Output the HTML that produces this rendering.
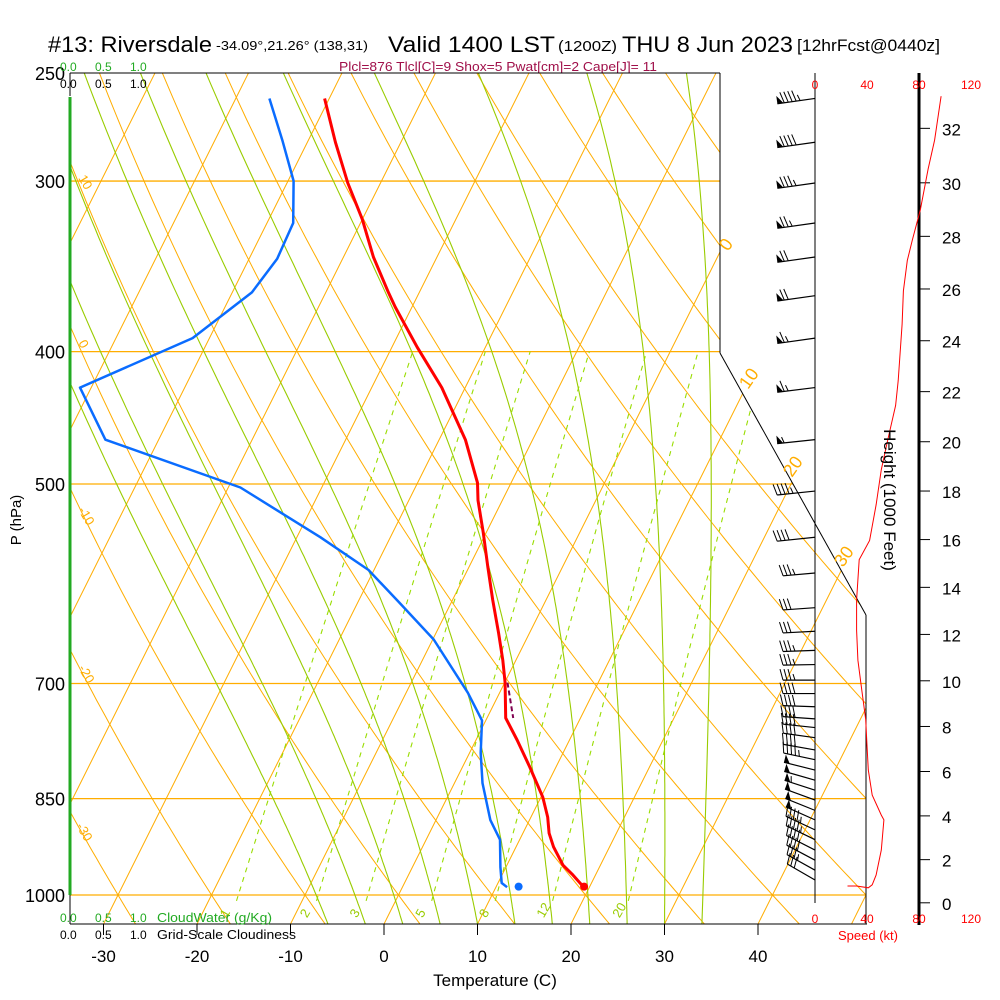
<!DOCTYPE html>
<html><head><meta charset="utf-8">
<style>
html,body{margin:0;padding:0;background:#fff;}
svg{display:block;font-family:"Liberation Sans",Arial,sans-serif;}
</style></head>
<body>
<svg id="chart" width="1000" height="1000" viewBox="0 0 1000 1000" xmlns="http://www.w3.org/2000/svg">
<defs>
<clipPath id="plotclip"><polygon points="70,73 720,73 720,353 866,615 866,924 70,924"/></clipPath>
</defs>
<rect x="0" y="0" width="1000" height="1000" fill="#fff"/>
<g id="title" font-family="'Liberation Sans Narrow','Liberation Sans',sans-serif">
<text x="48" y="52" font-size="22" textLength="164" lengthAdjust="spacingAndGlyphs">#13: Riversdale</text>
<text x="216" y="50" font-size="13" textLength="152" lengthAdjust="spacingAndGlyphs">-34.09°,21.26° (138,31)</text>
<text x="388" y="52" font-size="22" textLength="167" lengthAdjust="spacingAndGlyphs">Valid 1400 LST</text>
<text x="558" y="51" font-size="15" textLength="59" lengthAdjust="spacingAndGlyphs">(1200Z)</text>
<text x="622" y="52" font-size="22" textLength="171" lengthAdjust="spacingAndGlyphs">THU 8 Jun 2023</text>
<text x="797" y="51" font-size="17" textLength="143" lengthAdjust="spacingAndGlyphs">[12hrFcst@0440z]</text>
</g>
<text x="339" y="71" font-size="13" fill="#a0104a" textLength="318" lengthAdjust="spacingAndGlyphs" font-family="'Liberation Sans Narrow','Liberation Sans',sans-serif">Plcl=876 Tlcl[C]=9 Shox=5 Pwat[cm]=2 Cape[J]= 11</text>
<g id="grid" clip-path="url(#plotclip)"></g>
<g id="frame"></g>
<g id="series"></g>
<g id="winds"></g>
<g id="labels"></g>
</svg>
<script>
// ---- data ----
const pressureLevels=[300,400,500,700,850,1000];
const pressureTickLabels=[250,300,400,500,700,850,1000];
const tempTicks=[-30,-20,-10,0,10,20,30,40];
const isoTemps=[-120,-110,-100,-90,-80,-70,-60,-50,-40,-30,-20,-10,0,10,20,30,40,50,60];
const thetas=[-40,-30,-20,-10,0,10,20,30,40,50,60,70,80,90,100,110,120,130,140,150];
const moistStarts=[-6,-2,2,6,10,14,18,22,26,30,34];
const mixRatios=[1,2,3,5,8,12,20];
const tempP=[261,281,301,320,341,362,371,397,425,464,499,514,543,575,608,643,673,699,742,770,806,848,877,901,922,951,967,987];
const tempT=[-50.5,-47.0,-43.5,-40.0,-36.8,-33.3,-31.8,-27.3,-22.5,-17.2,-13.6,-12.6,-10.3,-8.0,-5.7,-3.3,-1.4,0.05,2.0,4.4,7.2,10.2,11.8,12.8,14.0,16.0,17.6,19.4];
const dewP=[261,280,300,322,342,362,391,425,464,503,547,578,611,650,711,745,787,828,881,911,954,980,987];
const dewT=[-56.4,-52.8,-49.4,-47.2,-47.0,-47.9,-51.8,-61.2,-55.7,-38.7,-27.5,-20.6,-15.5,-9.9,-3.4,-0.4,1.2,3.0,5.8,7.9,9.4,10.4,11.2];
const parcelP=[699,742];
const parcelT=[0.3,2.8];
const sfcP=986, sfcT=19.4, sfcTd=12.4;
const spdP=[260,280,294,315,331,343,361,382,420,438,464,488,518,550,568,608,640,673,708,744,777,810,845,874,881,927,967,983,988,985,985];
const spdKt=[97,92,87,81,75,71,68,67,64,62,56,51,47,42,34,32,32,33,36,39,40,41,44,51,53,51,47,44,41,32,25];
const barbP=[261,281,301,322,341,364,391,425,464,506,547,581,616,641,662,678,696,712,728,743,754,767,783,796,810,824,838,852,867,881,896,911,927,943,959,975];
const barbKt=[95,90,84,77,72,68,66,63,57,47,41,33,32,32,33,34,36,38,39,40,40,41,42,44,48,52,53,52,50,48,46,44,42,40,36,30];
const barbDir=[8,8,8,8,8,8,8,7,6,6,6,5,4,3,2,1,0,0,-2,-4,-6,-8,-10,-12,-14,-16,-18,-20,-22,-24,-25,-26,-27,-28,-29,-30];
const heightTicks=[0,2,4,6,8,10,12,14,16,18,20,22,24,26,28,30,32];
const speedTicks=[0,40,80,120];

// ---- scales ----
const NS="http://www.w3.org/2000/svg";
function Y(p){return 895-593*Math.log(1000/p);}
function X(T,p){return 384+9.35*T+0.5*(924-Y(p));}
function SX(k){return 815+1.3*k;}
function HY(kft){const m=kft*304.8;const p=1013.25*Math.pow(1-2.25577e-5*m,5.25588);return Y(p);}
function el(tag,attrs,parent){const e=document.createElementNS(NS,tag);for(const k in attrs)e.setAttribute(k,attrs[k]);parent.appendChild(e);return e;}
const grid=document.getElementById('grid'),frame=document.getElementById('frame'),series=document.getElementById('series'),winds=document.getElementById('winds'),labels=document.getElementById('labels');
const OR="#ffad00";

// isobars
pressureLevels.forEach(p=>{
  const l=el('line',{x1:70,x2:870,y1:Y(p),y2:Y(p),stroke:OR,'stroke-width':1.3},grid);
  
  
});
// isotherms
isoTemps.forEach(T=>{
  const l=el('line',{x1:X(T,1050),y1:Y(1050),x2:X(T,250),y2:Y(250),stroke:OR,'stroke-width':1},grid);
  
  
});
// dry adiabats
thetas.forEach(th=>{
  let pts=[];
  for(let p=1050;p>=248;p-=10){const T=(th+273.15)*Math.pow(p/1000,0.286)-273.15;pts.push(X(T,p).toFixed(1)+','+Y(p).toFixed(1));}
  const l=el('polyline',{points:pts.join(' '),fill:'none',stroke:OR,'stroke-width':1},grid);
  
  
});
// moist adiabats
function es(Tc){return 6.112*Math.exp(17.67*Tc/(Tc+243.5));}
moistStarts.forEach(T0=>{
  let T=T0+273.15,pts=[];
  for(let p=1050;p>=248;p-=5){
    pts.push(X(T-273.15,p).toFixed(1)+','+Y(p).toFixed(1));
    const e=es(T-273.15),rs=0.622*e/(p-e);
    const dTdp=(287*T+2.5e6*rs)/(1004+2.5e6*2.5e6*rs*0.622/(287*T*T))/p;
    T-=dTdp*5;
  }
  const l=el('polyline',{points:pts.join(' '),fill:'none',stroke:'#99cc00','stroke-width':1.1},grid);
  
  
});
// mixing ratio lines
mixRatios.forEach((w,i)=>{
  let pts=[];
  for(let p=1010;p>=400;p-=10){const e=w*p/(622+w);const a=Math.log(e/6.112);const Td=243.5*a/(17.67-a);pts.push(X(Td,p).toFixed(1)+','+Y(p).toFixed(1));}
  const l=el('polyline',{points:pts.join(' '),fill:'none',stroke:'#99dd00','stroke-width':1.1,'stroke-dasharray':'5,5'},grid);
  
  
  const p=1030,e=w*p/(622+w),a=Math.log(e/6.112),Td=243.5*a/(17.67-a);
  const t=el('text',{x:X(Td,p)-6,y:Y(p)+6,'font-size':13,fill:'#99cc00',transform:`rotate(-60 ${X(Td,p)-6} ${Y(p)+6})`},labels);
  t.textContent=w;
  
  
});

// frame
[[70,73,720,73],[720,73,720,353],[720,353,866,615],[866,615,866,924],[70,924,867,924],[70,73,70,96],[70,887,70,924]].forEach(s=>{
  const l=el('line',{x1:s[0],y1:s[1],x2:s[2],y2:s[3],stroke:'#000','stroke-width':1},frame);
  
  
});
const cw=el('line',{x1:70,y1:97,x2:70,y2:895,stroke:'#22aa22','stroke-width':3},frame);


// speed axes
const s0=el('line',{x1:815,y1:73,x2:815,y2:903,stroke:'#000','stroke-width':1},frame);


const hax=el('line',{x1:919,y1:73,x2:919,y2:925,stroke:'#000','stroke-width':3},frame);



// temperature ticks
tempTicks.forEach(T=>{
  const x=384+9.35*T;
  const l=el('line',{x1:x,y1:924,x2:x,y2:935,stroke:'#000','stroke-width':1},frame);
  
  
  const t=el('text',{x:x,y:962,'font-size':17,'text-anchor':'middle'},labels);
  t.textContent=T;
  
  
});
pressureTickLabels.forEach(p=>{
  const t=el('text',{x:65,y:Y(p)+7,'font-size':18,'text-anchor':'end'},labels);
  t.textContent=p;
  
  
});
heightTicks.forEach(h=>{
  const y=HY(h);
  const l=el('line',{x1:919,x2:930,y1:y,y2:y,stroke:'#000','stroke-width':1},frame);
  
  
  const t=el('text',{x:942,y:y+7,'font-size':17},labels);
  t.textContent=h;
  
  
});
speedTicks.forEach(k=>{
  [89,923].forEach(yy=>{
    const t=el('text',{x:SX(k),y:yy,'font-size':12,'text-anchor':'middle',fill:'#ff0000'},labels);
    t.textContent=k;
    
    
  });
});

// series
function poly(P,T,color,w,name,dash){
  const pts=P.map((p,i)=>X(T[i],p).toFixed(1)+','+Y(p).toFixed(1)).join(' ');
  const a={points:pts,fill:'none',stroke:color,'stroke-width':w,'stroke-linejoin':'round'};
  if(dash)a['stroke-dasharray']=dash;
  const l=el('polyline',a,series);
  
  
}
poly(dewP,dewT,'#0a6cff',2.5,'dewpoint-line');
poly(tempP,tempT,'#ff0000',3,'temperature-line');
poly(parcelP,parcelT,'#800050',2,'parcel-line','5,3');
const d1=el('circle',{cx:X(sfcT,sfcP),cy:Y(sfcP),r:4,fill:'#ff0000'},series);


const d2=el('circle',{cx:X(sfcTd,sfcP),cy:Y(sfcP),r:4,fill:'#0a6cff'},series);


const sp=el('polyline',{points:spdP.map((p,i)=>SX(spdKt[i]).toFixed(1)+','+Y(p).toFixed(1)).join(' '),fill:'none',stroke:'#ff0000','stroke-width':1},series);



// wind barbs
barbP.forEach((p,i)=>{
  const yr=Y(p),k=barbKt[i],a=barbDir[i]*Math.PI/180;
  const L=p<560?38:32;
  const xl=815-L*Math.cos(a),yl=yr+L*Math.sin(a);
  const ux=(815-xl)/L,uy=(yr-yl)/L;
  const nx=uy,ny=-ux;
  const g=el('g',{},winds);
  
  
  el('line',{x1:815,y1:yr,x2:xl,y2:yl,stroke:'#000','stroke-width':1.2},g);
  let rem=Math.round(k/5)*5,pos=0;
  while(rem>=50){
    el('polygon',{points:`${xl+ux*pos},${yl+uy*pos} ${xl+ux*(pos+6)},${yl+uy*(pos+6)} ${xl+ux*pos+nx*8},${yl+uy*pos+ny*8}`,fill:'#000'},g);
    pos+=7;rem-=50;
  }
  while(rem>=10){
    const bx=xl+ux*pos,by=yl+uy*pos;
    el('line',{x1:bx,y1:by,x2:bx+nx*11-ux*3,y2:by+ny*11-uy*3,stroke:'#000','stroke-width':1},g);
    pos+=4;rem-=10;
  }
  if(rem>=5){
    const bx=xl+ux*pos,by=yl+uy*pos;
    el('line',{x1:bx,y1:by,x2:bx+nx*6-ux*2,y2:by+ny*6-uy*2,stroke:'#000','stroke-width':1},g);
  }
});

// orange rotated labels
const thetaLbl=[["10",78,178],["0",78,343],["-10",78,510],["-20",78,668],["-30",76,826]];
thetaLbl.forEach(d=>{
  const t=el('text',{x:d[1],y:d[2],'font-size':13,fill:OR,transform:`rotate(60 ${d[1]} ${d[2]})`},labels);
  t.textContent=d[0];
  
  
});
const isoLbl=[["0",728,252],["10",748,390],["20",792,478],["30",843,568]];
isoLbl.forEach(d=>{
  const t=el('text',{x:d[1],y:d[2],'font-size':18,fill:OR,transform:`rotate(-55 ${d[1]} ${d[2]})`},labels);
  t.textContent=d[0];
  
  
});
</script>
<g></g>
<svg width="0" height="0"></svg>
<script>
const svg=document.getElementById('chart');
function txt(s,attrs,name){const t=document.createElementNS("http://www.w3.org/2000/svg",'text');for(const k in attrs)t.setAttribute(k,attrs[k]);t.textContent=s;


svg.appendChild(t);}
txt('0.0',{x:60,y:71,'font-size':12,fill:'#22aa22'},'cloud-water-scale');
txt('0.5',{x:95,y:71,'font-size':12,fill:'#22aa22'},'cloud-water-scale');
txt('1.0',{x:130,y:71,'font-size':12,fill:'#22aa22'},'cloud-water-scale');
txt('0.0',{x:60,y:88,'font-size':12},'cloudiness-scale');
txt('0.5',{x:95,y:88,'font-size':12},'cloudiness-scale');
txt('1.0',{x:130,y:88,'font-size':12},'cloudiness-scale');
txt('0.0',{x:60,y:922,'font-size':12,fill:'#22aa22'},'cloud-water-scale');
txt('0.5',{x:95,y:922,'font-size':12,fill:'#22aa22'},'cloud-water-scale');
txt('1.0',{x:130,y:922,'font-size':12,fill:'#22aa22'},'cloud-water-scale');
txt('CloudWater (g/Kg)',{x:157,y:922,'font-size':13,fill:'#22aa22',textLength:115,lengthAdjust:'spacingAndGlyphs'},'cloud-water-legend');
txt('0.0',{x:60,y:939,'font-size':12},'cloudiness-scale');
txt('0.5',{x:95,y:939,'font-size':12},'cloudiness-scale');
txt('1.0',{x:130,y:939,'font-size':12},'cloudiness-scale');
txt('Grid-Scale Cloudiness',{x:157,y:939,'font-size':13,textLength:139,lengthAdjust:'spacingAndGlyphs'},'cloudiness-legend');
txt('Temperature (C)',{x:495,y:986,'font-size':17,'text-anchor':'middle'},'x-axis-title');
txt('P (hPa)',{x:21,y:520,'font-size':15,'text-anchor':'middle',transform:'rotate(-90 21 520)'},'y-axis-title');
txt('Height (1000 Feet)',{x:884,y:500,'font-size':17,'text-anchor':'middle',transform:'rotate(90 884 500)'},'height-axis-title');
txt('Speed (kt)',{x:868,y:940,'font-size':13,'text-anchor':'middle',fill:'#ff0000'},'speed-axis-title');
</script>
</body></html>
